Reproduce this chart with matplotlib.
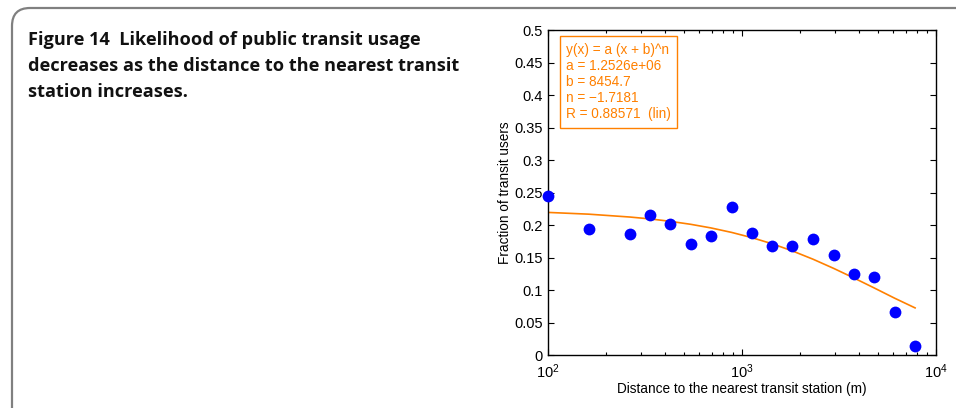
import matplotlib
matplotlib.use("Agg")
import matplotlib.pyplot as plt
from matplotlib.patches import FancyBboxPatch
from matplotlib.ticker import FixedLocator, FormatStrFormatter, LogLocator, NullFormatter

# distance to nearest station (m) and fraction of transit users
distance = [100, 162, 264, 336, 426, 544, 690, 885, 1127, 1435,
            1820, 2323, 2972, 3800, 4808, 6122, 7800]
fraction = [0.2455, 0.1948, 0.187, 0.2163, 0.2015, 0.1717, 0.1835, 0.2277, 0.1886, 0.1686,
            0.1682, 0.1794, 0.1543, 0.1255, 0.121, 0.0666, 0.0148]

# fitted curve values at the same distances
fit_values = [0.2198, 0.2171, 0.2127, 0.2098, 0.2061, 0.2015, 0.1960, 0.1890, 0.1809, 0.1714,
              0.1605, 0.1478, 0.1336, 0.1185, 0.1035, 0.0878, 0.0729]

fit_text = ["y(x) = a (x + b)^n", "a = 1.2526e+06", "b = 8454.7",
            "n = \u22121.7181", "R = 0.88571  (lin)"]

caption = ["Figure 14  Likelihood of public transit usage",
           "decreases as the distance to the nearest transit",
           "station increases."]

y_ticks = [0, 0.05, 0.1, 0.15, 0.2, 0.25, 0.3, 0.35, 0.4, 0.45, 0.5]

ORANGE = "#ff8000"

plt.rcParams['font.family'] = ['Liberation Sans', 'DejaVu Sans']
plt.rcParams['mathtext.default'] = 'regular'

fig = plt.figure(figsize=(9.56, 4.08), dpi=100)

# rounded panel frame
frame = FancyBboxPatch((0.12, -1.0), 12.0, 5.0, boxstyle="round,pad=0,rounding_size=0.18",
                       transform=fig.dpi_scale_trans, facecolor='none',
                       edgecolor='#808080', linewidth=1.6, clip_on=False)
fig.patches.append(frame)

# caption text
for i, line in enumerate(caption):
    fig.text(28 / 956, 1 - (45 + 26 * i) / 408, line, family='Open Sans', weight='bold',
             fontsize=13.1, color='#111111', va='baseline', ha='left')

ax = fig.add_axes([0.5732, 0.1292, 0.4059, 0.7966])
ax.plot(distance, fit_values, color=ORANGE, linewidth=1.2, zorder=2)
ax.plot(distance, fraction, 'o', color='#0000ff', markersize=8.5, markeredgewidth=0,
        zorder=3, clip_on=False)

ax.set_xscale('log')
ax.set_xlim(100, 10000)
ax.set_ylim(0, 0.5)
ax.yaxis.set_major_locator(FixedLocator(y_ticks))
ax.yaxis.set_major_formatter(FormatStrFormatter('%g'))
ax.xaxis.set_major_locator(LogLocator(base=10))
ax.xaxis.set_minor_locator(LogLocator(base=10, subs=range(2, 10)))
ax.xaxis.set_minor_formatter(NullFormatter())
ax.tick_params(which='both', direction='in', top=True, right=True, labelsize=10.5,
               colors='black', width=0.8)
ax.tick_params(which='major', length=4)
ax.tick_params(which='minor', length=2.5)
ax.tick_params(axis='x', which='major', pad=5)
for s in ax.spines.values():
    s.set_linewidth(1.0)

ax.set_xlabel('Distance to the nearest transit station (m)', fontsize=9.8, labelpad=1)
ax.set_ylabel('Fraction of transit users', fontsize=9.8, labelpad=1.5)

ax.text(0.047, 0.962, "\n".join(fit_text), transform=ax.transAxes, fontsize=9.8,
        color=ORANGE, va='top', ha='left', linespacing=1.2,
        bbox=dict(boxstyle='square,pad=0.45', facecolor='white', edgecolor=ORANGE,
                  linewidth=1.0))

fig.savefig('out.png', dpi=100)
